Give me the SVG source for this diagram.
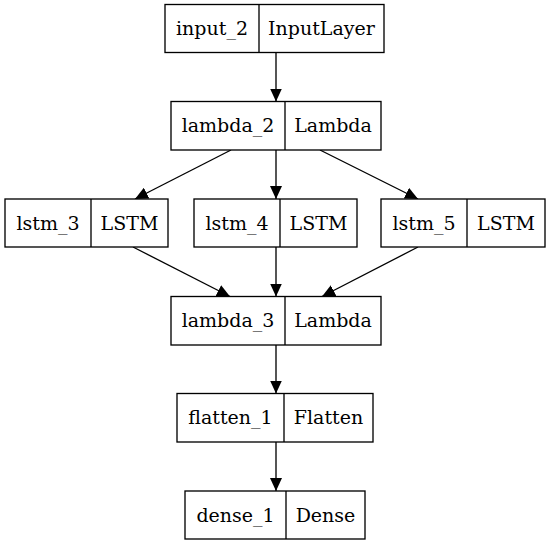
<svg xmlns="http://www.w3.org/2000/svg" width="551" height="547" viewBox="0 0 551 547">
<style>
.box{fill:#fff;stroke:#000;stroke-width:1.33}
.t{font-family:"DejaVu Serif",serif;font-size:19px;fill:#000;text-anchor:middle}
.e{stroke:#000;stroke-width:1.33;fill:none;marker-end:url(#ah)}
</style>
<defs>
<marker id="ah" markerUnits="userSpaceOnUse" markerWidth="14" markerHeight="12" refX="13" refY="6" orient="auto">
<path d="M0,0 L13,6 L0,12 Z" fill="#000"/>
</marker>
</defs>
<rect width="551" height="547" fill="#fff"/>
<g id="connectors">
<line class="e" x1="276" y1="52.5" x2="276" y2="101.5"/>
<line class="e" x1="231" y1="150" x2="135" y2="199"/>
<line class="e" x1="276" y1="150" x2="276" y2="199"/>
<line class="e" x1="320" y1="150" x2="418" y2="199"/>
<line class="e" x1="133" y1="247" x2="230" y2="296.5"/>
<line class="e" x1="276" y1="247" x2="276" y2="296.5"/>
<line class="e" x1="418" y1="247" x2="322" y2="296.5"/>
<line class="e" x1="276" y1="345" x2="276" y2="393.5"/>
<line class="e" x1="276" y1="442" x2="276" y2="491"/>
</g>
<g id="input_2">
<rect class="box" x="165" y="4.5" width="219" height="48"/>
<line class="box" x1="259" y1="4.5" x2="259" y2="52.5"/>
<text class="t" x="212" y="35">input_2</text>
<text class="t" x="321.5" y="35">InputLayer</text>
</g>
<g id="lambda_2">
<rect class="box" x="171" y="101.5" width="210" height="48.5"/>
<line class="box" x1="285" y1="101.5" x2="285" y2="150"/>
<text class="t" x="228" y="132">lambda_2</text>
<text class="t" x="333" y="132">Lambda</text>
</g>
<g id="lstm_3">
<rect class="box" x="5" y="199" width="163" height="48"/>
<line class="box" x1="91" y1="199" x2="91" y2="247"/>
<text class="t" x="48" y="229.5">lstm_3</text>
<text class="t" x="129.5" y="229.5">LSTM</text>
</g>
<g id="lstm_4">
<rect class="box" x="194" y="199" width="163" height="48"/>
<line class="box" x1="280" y1="199" x2="280" y2="247"/>
<text class="t" x="237" y="229.5">lstm_4</text>
<text class="t" x="318.5" y="229.5">LSTM</text>
</g>
<g id="lstm_5">
<rect class="box" x="381" y="199" width="164" height="48"/>
<line class="box" x1="467" y1="199" x2="467" y2="247"/>
<text class="t" x="424" y="229.5">lstm_5</text>
<text class="t" x="506" y="229.5">LSTM</text>
</g>
<g id="lambda_3">
<rect class="box" x="171" y="296.5" width="210" height="48.5"/>
<line class="box" x1="285" y1="296.5" x2="285" y2="345"/>
<text class="t" x="228" y="327">lambda_3</text>
<text class="t" x="333" y="327">Lambda</text>
</g>
<g id="flatten_1">
<rect class="box" x="177" y="393.5" width="196" height="48.5"/>
<line class="box" x1="284" y1="393.5" x2="284" y2="442"/>
<text class="t" x="230.5" y="424">flatten_1</text>
<text class="t" x="328.5" y="424">Flatten</text>
</g>
<g id="dense_1">
<rect class="box" x="185" y="491" width="180" height="48"/>
<line class="box" x1="286" y1="491" x2="286" y2="539"/>
<text class="t" x="235.5" y="521.5">dense_1</text>
<text class="t" x="325.5" y="521.5">Dense</text>
</g>
</svg>
